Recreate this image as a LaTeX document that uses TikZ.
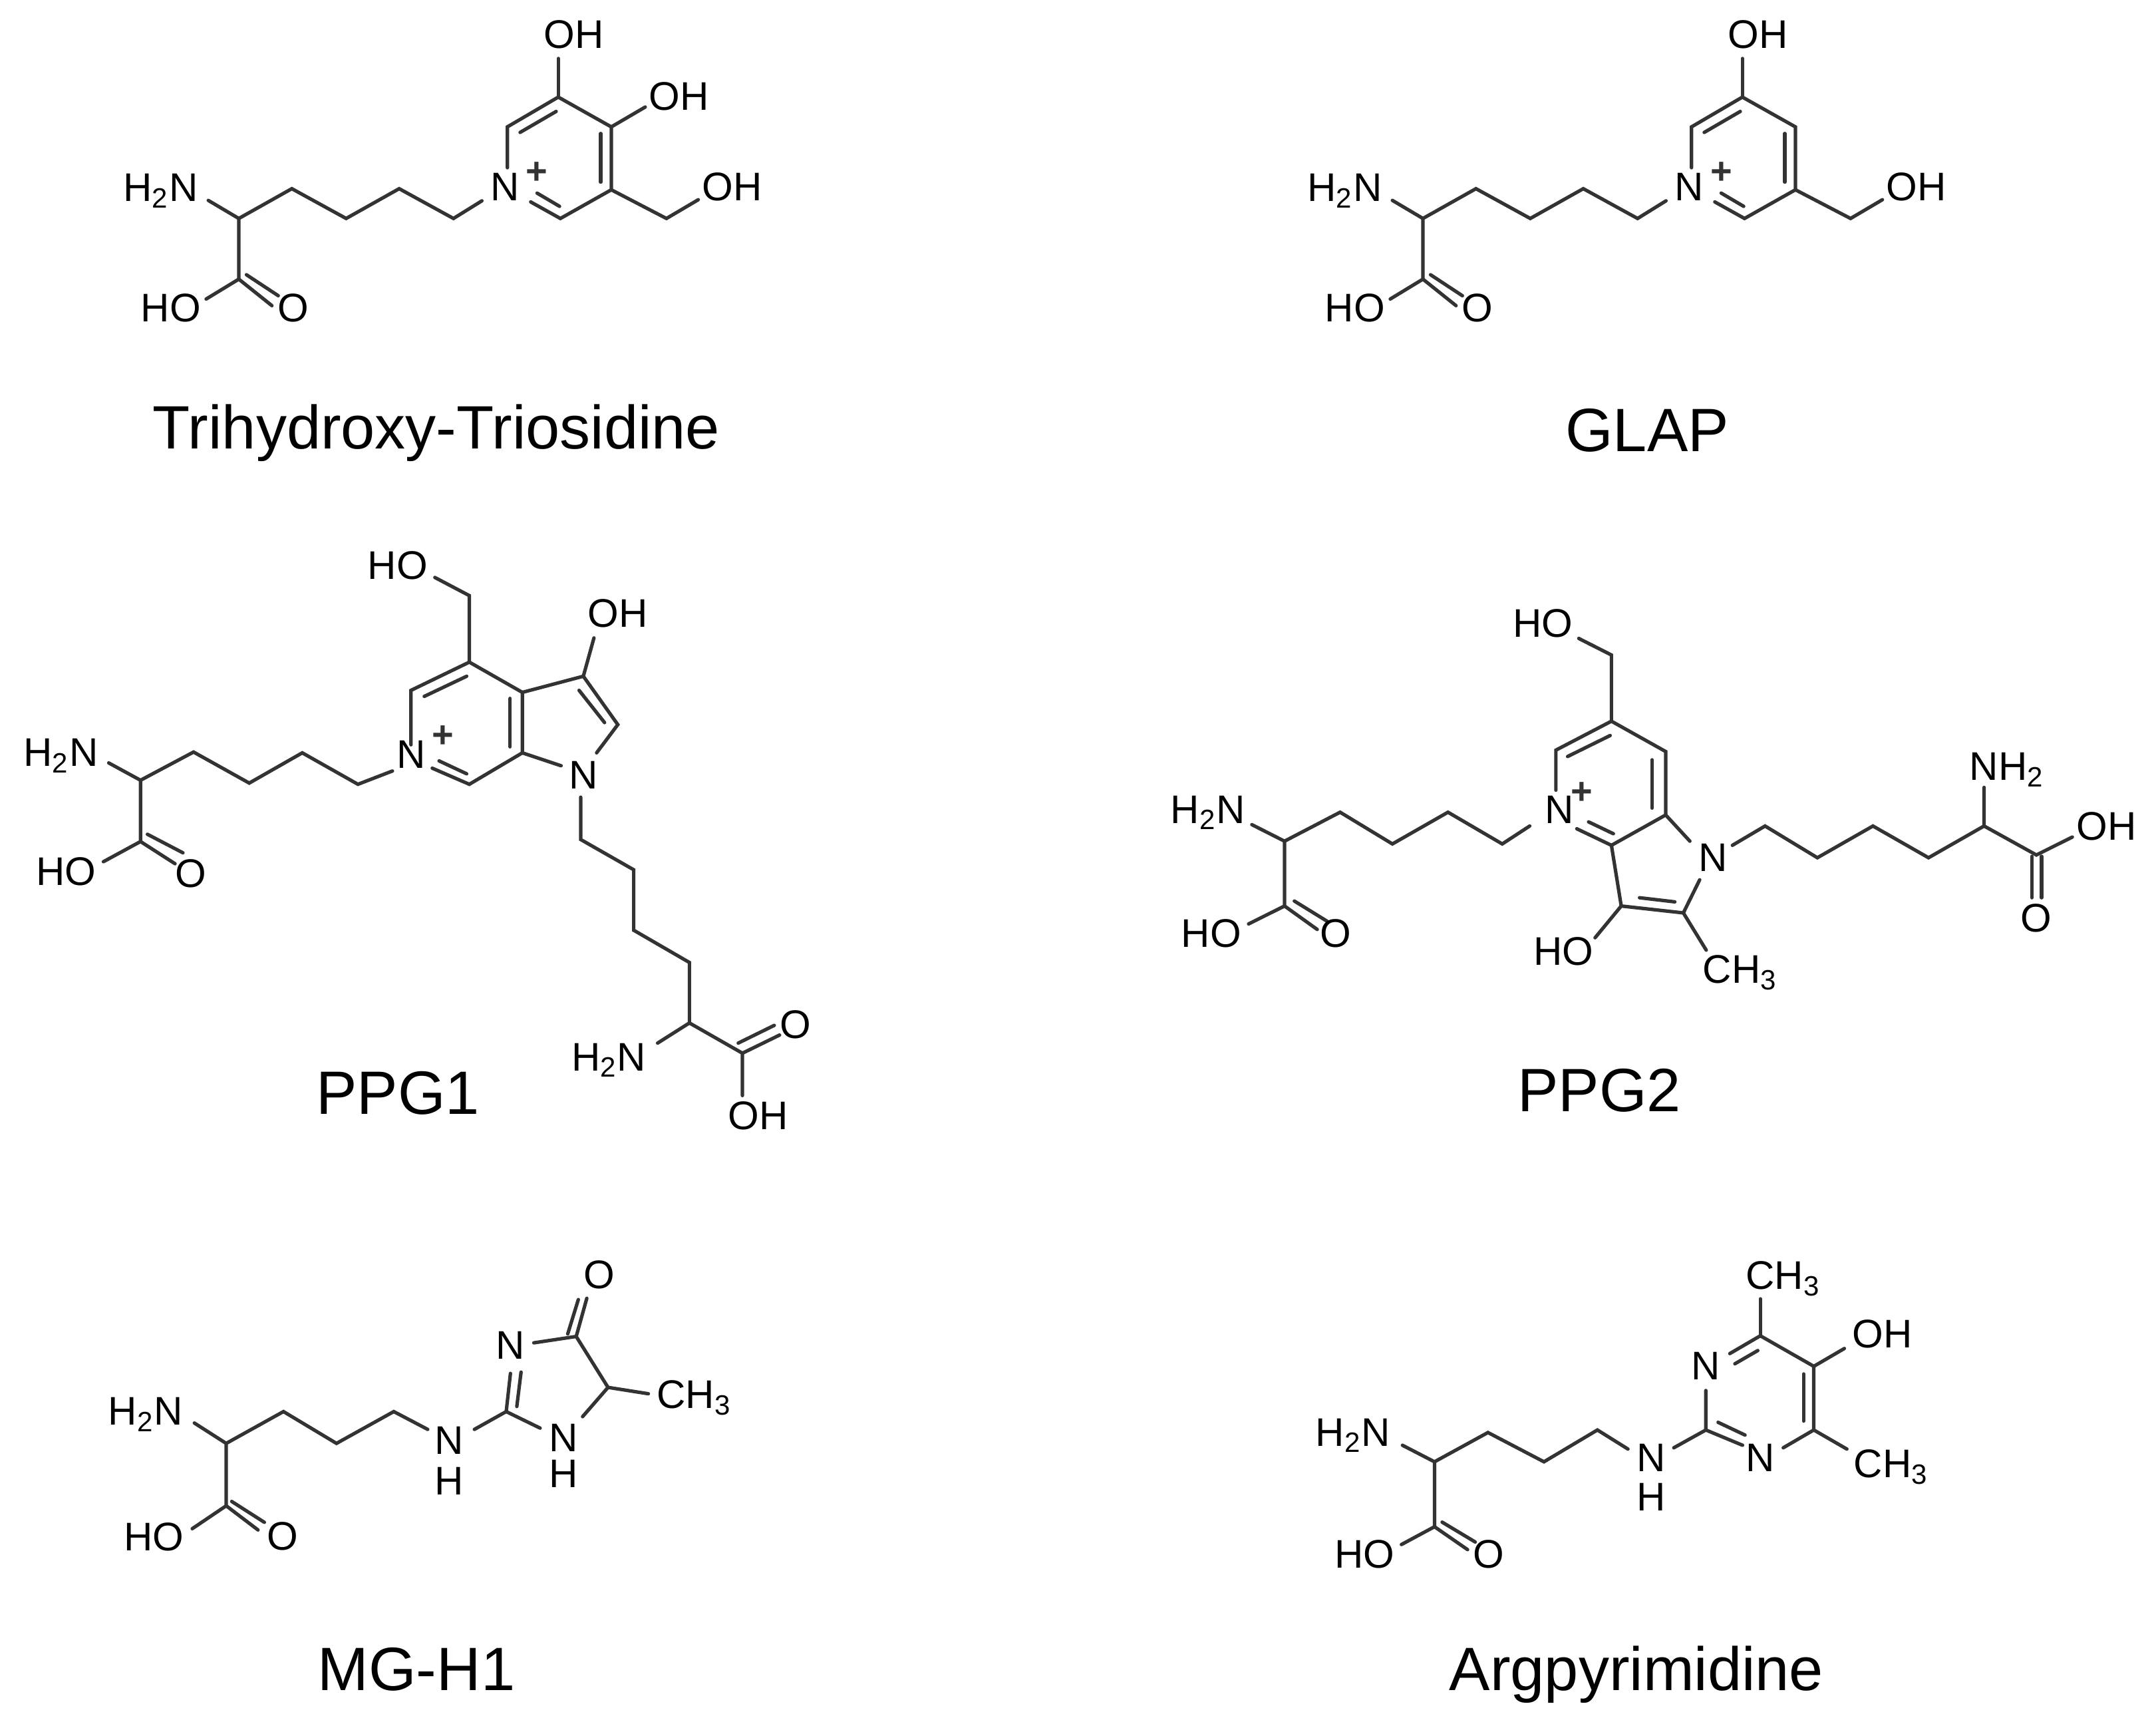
\documentclass[tikz,border=0pt]{standalone}
\usepackage{fontspec}
\setmainfont{Liberation Sans}
\begin{document}
\begin{tikzpicture}[
  lab/.style={font=\fontsize{15}{15}\selectfont, inner sep=0pt, text height=0.72em, text depth=0pt, text=black},
  captxt/.style={font=\fontsize{23}{23}\selectfont, inner sep=0pt, text height=0.72em, text depth=0pt},
  plus/.style={font=\fontsize{14}{14}\selectfont\bfseries, inner sep=0pt},
  bd/.style={line width=1.3pt, color=black!80, line cap=round}]
\fill[white] (0pt,0pt) rectangle (810.25pt,-650.5pt);
\useasboundingbox (0pt,0pt) rectangle (810.25pt,-650.5pt);

% ---------- Trihydroxy-Triosidine and GLAP ----------
\foreach \xs/\mid in {40pt/1,485pt/0}{
\begin{scope}[xshift=\xs, x={(0.15944pt,0)}, y={(0,-0.08291pt)}, bd]
 \draw (240,908)--(312,990)--(437,855)--(565,990)--(690,855)--(818,990)--(885,910);
 \draw (312,990)--(312,1265)--(235,1355);
 \draw (312,1265)--(390,1385); \draw (330,1245)--(405,1340);
 \draw (945,760)--(945,575)--(1065,440)--(1190,575)--(1190,860)--(1070,990)--(1000,915);
 \draw (975,600)--(1060,505); \draw (1165,605)--(1165,825); \draw (1015,875)--(1068,935);
 \draw (1065,440)--(1065,265);
 \ifnum\mid=1 \draw (1190,575)--(1270,485); \node[lab] (oh2) at (1350,455) {OH}; \fi
 \draw (1190,860)--(1320,990)--(1395,905);
 \node[lab] (nh2) at (128,870) {H\textsubscript{2}N};
 \node[lab] (ho) at (152,1415) {HO};
 \node[lab] (o) at (440,1415) {O};
 \node[lab] (np) at (940,865) {N};
 \node[plus] (pl) at (1015,785) {+};
 \node[lab] (oh1) at (1102,175) {OH};
 \node[lab] (oh3) at (1475,865) {OH};
\end{scope}}
\node[captxt] (c1) at (164pt,-165pt) {Trihydroxy-Triosidine};
\node[captxt] (c2) at (619pt,-166pt) {GLAP};

% ---------- PPG1 ----------
\begin{scope}[yshift=-195pt, x={(0.19930pt,0)}, y={(0,-0.15147pt)}, bd]
 \draw (205,605)--(265,648)--(365,578)--(470,655)--(570,580)--(675,658)--(740,625);
 \draw (265,648)--(265,800)--(195,850);
 \draw (265,800)--(330,855); \draw (278,782)--(345,828);
 \draw (775,560)--(775,425)--(885,355)--(985,430)--(985,580)--(885,658)--(815,618);
 \draw (800,440)--(880,390); \draw (962,445)--(962,565); \draw (828,600)--(880,632);
 \draw (985,430)--(1100,390)--(1165,510)--(1125,580);
 \draw (1092,425)--(1140,505);
 \draw (985,580)--(1058,612);
 \draw (885,355)--(885,190)--(820,145);
 \draw (1100,390)--(1120,295);
 \draw (1095,690)--(1095,795)--(1195,870)--(1195,1020)--(1300,1100)--(1300,1250)--(1240,1300);
 \draw (1300,1250)--(1400,1325)--(1400,1430);
 \draw (1400,1325)--(1470,1280); \draw (1392,1300)--(1460,1256);
 \node[lab] at (115,590) {H\textsubscript{2}N};
 \node[lab] at (125,885) {HO};
 \node[lab] at (360,890) {O};
 \node[lab] at (775,595) {N};
 \node[plus] at (835,540) {+};
 \node[lab] at (750,125) {HO};
 \node[lab] at (1165,245) {OH};
 \node[lab] at (1100,645) {N};
 \node[lab] at (1148,1345) {H\textsubscript{2}N};
 \node[lab] at (1500,1265) {O};
 \node[lab] at (1430,1490) {OH};
\end{scope}
\node[captxt] (c3) at (149.5pt,-415pt) {PPG1};

% ---------- PPG2 ----------
\begin{scope}[xshift=425pt, yshift=-215pt, x={(0.24569pt,0)}, y={(0,-0.10364pt)}, bd]
 \draw (185,915)--(235,975)--(320,870)--(400,985)--(485,870)--(568,985)--(610,920);
 \draw (235,975)--(235,1210)--(180,1275);
 \draw (235,1210)--(285,1295); \draw (250,1192)--(300,1265);
 \draw (650,790)--(650,645)--(735,540)--(818,650)--(818,880)--(735,990)--(682,930);
 \draw (668,668)--(733,592); \draw (797,680)--(797,855); \draw (700,905)--(738,948);
 \draw (735,990)--(750,1210)--(845,1235)--(870,1115);
 \draw (778,1180)--(832,1195);
 \draw (818,880)--(855,975);
 \draw (735,540)--(735,300)--(685,240);
 \draw (750,1210)--(710,1325);
 \draw (845,1235)--(880,1370);
 \draw (920,990)--(970,920)--(1050,1035)--(1135,920)--(1220,1035)--(1305,920)--(1305,780);
 \draw (1305,920)--(1385,1025)--(1440,960);
 \draw (1378,1030)--(1378,1180); \draw (1393,1030)--(1393,1180);
 \node[lab] at (118,875) {H\textsubscript{2}N};
 \node[lab] at (123,1325) {HO};
 \node[lab] at (313,1325) {O};
 \node[lab] at (655,875) {N};
 \node[plus] at (690,800) {+};
 \node[lab] at (630,200) {HO};
 \node[lab] at (662,1390) {HO};
 \node[lab] at (932,1455) {CH\textsubscript{3}};
 \node[lab] at (890,1050) {N};
 \node[lab] at (1340,720) {NH\textsubscript{2}};
 \node[lab] at (1492,935) {OH};
 \node[lab] at (1385,1270) {O};
\end{scope}
\node[captxt] (c4) at (601pt,-414pt) {PPG2};

% ---------- MG-H1 ----------
\begin{scope}[xshift=30pt, yshift=-450pt, x={(0.15944pt,0)}, y={(0,-0.09566pt)}, bd]
 \draw (270,885)--(345,965)--(480,840)--(605,965)--(740,840)--(820,910);
 \draw (345,965)--(345,1210)--(265,1300);
 \draw (345,1210)--(420,1305); \draw (358,1193)--(435,1275);
 \draw (930,910)--(1005,840)--(1015,690); \draw (1030,820)--(1040,685);
 \draw (1070,570)--(1170,545)--(1245,745)--(1185,860);
 \draw (1170,545)--(1195,395); \draw (1150,535)--(1175,400);
 \draw (1245,745)--(1340,770);
 \draw (1005,840)--(1085,905);
 \node[lab] at (155,855) {H\textsubscript{2}N};
 \node[lab] at (175,1350) {HO};
 \node[lab] at (478,1345) {O};
 \node[lab] at (870,970) {N};
 \node[lab] at (870,1130) {H};
 \node[lab] at (1015,595) {N};
 \node[lab] at (1225,320) {O};
 \node[lab] at (1448,790) {CH\textsubscript{3}};
 \node[lab] at (1140,960) {N};
 \node[lab] at (1140,1100) {H};
\end{scope}
\node[captxt] (c5) at (156.5pt,-631.5pt) {MG-H1};

% ---------- Argpyrimidine ----------
\begin{scope}[xshift=475pt, yshift=-455pt, x={(0.19133pt,0)}, y={(0,-0.09566pt)}, bd]
 \draw (272,920)--(335,985)--(440,870)--(550,985)--(655,860)--(715,935);
 \draw (335,985)--(335,1240)--(270,1310);
 \draw (335,1240)--(400,1330); \draw (350,1222)--(415,1300);
 \draw (805,930)--(868,860)--(868,705);
 \draw (915,560)--(975,490)--(1080,610)--(1080,860)--(1020,930);
 \draw (925,600)--(970,548); \draw (1060,640)--(1060,825);
 \draw (975,490)--(975,345);
 \draw (1080,610)--(1140,540);
 \draw (1080,860)--(1145,935);
 \draw (868,860)--(940,920); \draw (892,830)--(945,880);
 \node[lab] at (175,885) {H\textsubscript{2}N};
 \node[lab] at (198,1365) {HO};
 \node[lab] at (442,1365) {O};
 \node[lab] at (760,985) {N};
 \node[lab] at (760,1140) {H};
 \node[lab] at (868,625) {N};
 \node[lab] at (1020,270) {CH\textsubscript{3}};
 \node[lab] at (1215,500) {OH};
 \node[lab] at (975,985) {N};
 \node[lab] at (1232,1010) {CH\textsubscript{3}};
\end{scope}
\node[captxt] (c6) at (615pt,-631.5pt) {Argpyrimidine};
\end{tikzpicture}
\end{document}
